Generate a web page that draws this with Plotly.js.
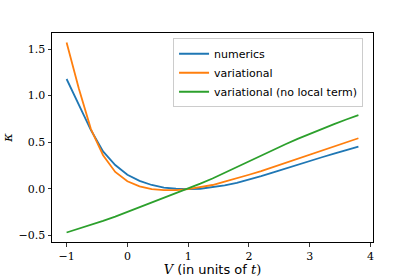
<!DOCTYPE html>
<html>
<head>
<meta charset="utf-8">
<script src="https://cdn.plot.ly/plotly-3.0.1.min.js"></script>
<style>html,body{margin:0;padding:0;background:#fff;}#chart{width:415px;height:277px;}</style>
</head>
<body>
<div id="chart"></div>
<script>
const V = [-1.0,-0.8,-0.6,-0.4,-0.2,0.0,0.2,0.4,0.6,0.8,1.0,1.2,1.4,1.6,1.8,2.0,2.2,2.4,2.6,2.8,3.0,3.2,3.4,3.6,3.8];
const numerics = [1.178,0.90,0.63,0.40,0.255,0.15,0.085,0.04,0.012,0.0,-0.005,0.0,0.015,0.035,0.062,0.095,0.135,0.175,0.217,0.258,0.298,0.338,0.377,0.415,0.453];
const variational = [1.57,1.08,0.64,0.36,0.18,0.08,0.025,-0.005,-0.015,-0.015,-0.005,0.015,0.04,0.075,0.11,0.15,0.19,0.235,0.28,0.325,0.37,0.413,0.456,0.50,0.542];
const variationalNoLocal = [-0.47,-0.43,-0.39,-0.345,-0.30,-0.25,-0.20,-0.15,-0.10,-0.05,0.0,0.055,0.11,0.172,0.235,0.297,0.36,0.42,0.478,0.535,0.59,0.643,0.694,0.743,0.79];
const names = ["numerics","variational","variational (no local term)"];
const colors = ["#1f77b4","#ff7f0e","#2ca02c"];
const xTicks = [-1,0,1,2,3,4];
const xTickText = ["\u22121","0","1","2","3","4"];
const yTicks = [-0.5,0,0.5,1.0,1.5];
const yTickText = ["\u22120.5","0.0","0.5","1.0","1.5"];

const series = [numerics, variational, variationalNoLocal];
const traces = series.map((s,i)=>({
  x: V, y: s, type: "scatter", mode: "lines", name: names[i],
  line: {color: colors[i], width: 1.8}
}));

const serif = "'DejaVu Serif', 'Liberation Serif', serif";
const layout = {
  width: 415, height: 277,
  margin: {l: 52, r: 42, t: 33, b: 35},
  paper_bgcolor: "#fff", plot_bgcolor: "#fff",
  showlegend: true,
  legend: {
    x: 0.969, y: 0.975, xanchor: "right", yanchor: "top",
    bordercolor: "#cccccc", borderwidth: 1, bgcolor: "rgba(255,255,255,0.8)",
    font: {family: "'DejaVu Sans', sans-serif", size: 11, color: "#000"},
    itemwidth: 30, tracegroupgap: 0
  },
  xaxis: {
    range: [-1.24, 4.04], tickvals: xTicks, ticktext: xTickText,
    ticks: "outside", ticklen: 3.5, tickwidth: 0.8, tickcolor: "#000",
    showgrid: false, zeroline: false, showline: true, linecolor: "#000", linewidth: 1, mirror: true,
    tickfont: {family: serif, size: 11, color: "#000"},
    title: {text: "<i>V</i> <span style=\"font-family:'DejaVu Sans',sans-serif\">(in units of </span><i>t</i>)", font: {family: serif, size: 13, color: "#000"}, standoff: 4}
  },
  yaxis: {
    range: [-0.572, 1.672], tickvals: yTicks, ticktext: yTickText,
    ticks: "outside", ticklen: 3.5, tickwidth: 0.8, tickcolor: "#000",
    showgrid: false, zeroline: false, showline: true, linecolor: "#000", linewidth: 1, mirror: true,
    tickfont: {family: serif, size: 11, color: "#000"},
    title: {text: "<i>\u03ba</i>", font: {family: serif, size: 13, color: "#000"}, standoff: 8}
  }
};
Plotly.newPlot("chart", traces, layout, {staticPlot: true, displayModeBar: false});
</script>
</body>
</html>
